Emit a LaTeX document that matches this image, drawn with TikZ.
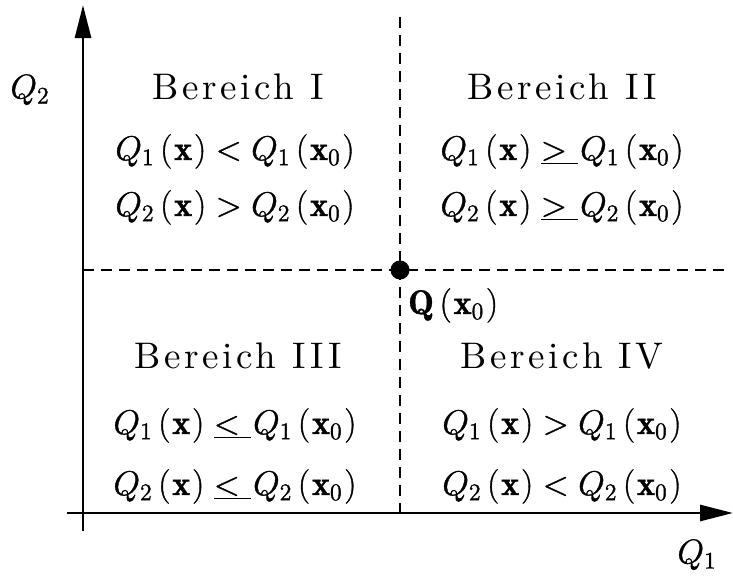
\RequirePackage{fix-cm}
\documentclass[tikz,border=0pt]{standalone}
\usepackage{fontspec}
\usetikzlibrary{arrows.meta}
\newfontfamily\regfont{lmroman10-regular.otf}[LetterSpace=10]
\newcommand{\M}[1]{\special{pdf:literal direct 2 Tr 0.22 w}\scalebox{1.65}{$#1$}\special{pdf:literal direct 0 Tr}}
\newcommand{\qx}[1]{Q_{#1}\mkern3mu(\mkern1mu\mathbf{x}\mkern1mu)}
\newcommand{\qxo}[1]{Q_{#1}\mkern3mu(\mkern1mu\mathbf{x}_{0}\mkern1mu)}
\newcommand{\uge}{\mkern5mu\underline{>\mkern6mu}\mkern1mu}
\newcommand{\ule}{\mkern5mu\underline{<\mkern6mu}\mkern1mu}
\tikzset{
  axisline/.style={line width=2.8pt, -{Triangle[length=33pt,width=16pt]}},
  guide/.style={line width=2.8pt, dash pattern=on 11pt off 7pt},
  region/.style={anchor=base, inner sep=0pt,
    font=\regfont\fontsize{37}{40}\selectfont},
  cond/.style={anchor=base, inner sep=0pt, font=\fontsize{20.74}{24}\selectfont},
  lab/.style={inner sep=0pt, font=\fontsize{20.74}{24}\selectfont},
}
\begin{document}
\begin{tikzpicture}[x=1pt,y=-1pt]
\useasboundingbox (0,0) rectangle (733,581);
% axes
\coordinate (ybot) at (83,531);
\coordinate (ytop) at (83,5);
\coordinate (xl) at (67,513);
\coordinate (xr) at (733,513);
\draw[axisline] (ybot) -- (ytop);
\draw[axisline] (xl) -- (xr);
% dashed guides
\node[circle, fill, inner sep=0pt, minimum size=19pt] (P) at (400,270) {};
\coordinate (vt) at (400,17);
\coordinate (vb) at (400,513);
\coordinate (hl) at (83,270);
\coordinate (hr) at (728,270);
\draw[guide] (vt) -- (vb);
\draw[guide] (hl) -- (hr);
% labels
\node[lab] (q2) at (30,90) {\M{Q_2}};
\node[lab] (q1) at (697,555) {\M{Q_1}};
\node[cond, anchor=base west] (qx0) at (408,314) {\M{\mathbf{Q}\mkern3mu(\mkern1mu\mathbf{x}_{0}\mkern1mu)}};
% region I
\node[region] (r1) at (238,99) {Bereich I};
\node[cond] (r1a) at (235,160) {\M{\qx{1}<\qxo{1}}};
\node[cond] (r1b) at (235,216) {\M{\qx{2}>\qxo{2}}};
% region II
\node[region] (r2) at (562,99) {Bereich II};
\node[cond] (r2a) at (562,160) {\M{\qx{1}\uge\qxo{1}}};
\node[cond] (r2b) at (562,216) {\M{\qx{2}\uge\qxo{2}}};
% region III
\node[region] (r3) at (238,368) {Bereich III};
\node[cond] (r3a) at (235,434) {\M{\qx{1}\ule\qxo{1}}};
\node[cond] (r3b) at (235,495) {\M{\qx{2}\ule\qxo{2}}};
% region IV
\node[region] (r4) at (562,368) {Bereich IV};
\node[cond] (r4a) at (562,434) {\M{\qx{1}>\qxo{1}}};
\node[cond] (r4b) at (562,495) {\M{\qx{2}<\qxo{2}}};
\end{tikzpicture}
\end{document}
